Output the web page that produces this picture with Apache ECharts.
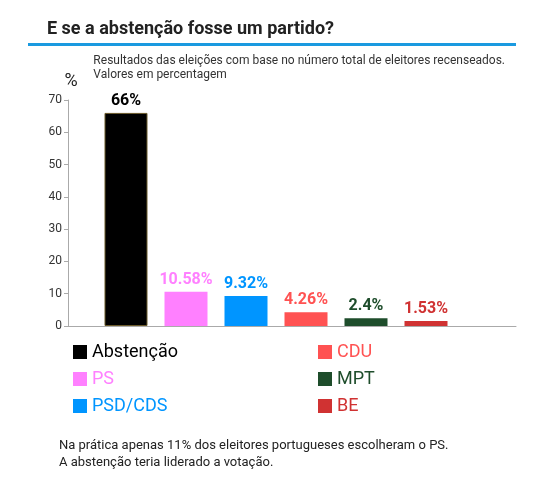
<!DOCTYPE html><html><head><meta charset="utf-8"><script src="https://cdn.jsdelivr.net/npm/echarts@6/dist/echarts.min.js"></script></head><body style="margin:0"><div id="c" style="width:560px;height:484px"></div><script>
const categories=["Abstenção","PS","PSD/CDS","CDU","MPT","BE",""];
const values=[66,10.58,9.32,4.26,2.4,1.53];
const colors=["#000000","#ff80ff","#0095ff","#ff5252","#1e4d2b","#d03232"];
const yTicks=[0,10,20,30,40,50,60,70];
const F="Roboto";
const series=values.map((v,i)=>({name:categories[i],type:'bar',stack:'a',barWidth:43,
 data:categories.map((c,j)=>j===i?v:'-'),
 itemStyle:{color:colors[i],borderColor:i===0?'#6b5a2a':colors[i],borderWidth:i===0?1:0},
 label:{show:true,position:'top',formatter:v+'%',color:colors[i],fontFamily:F,fontWeight:'bold',fontSize:16,distance:4}}));
const leg=(names,left)=>({orient:'vertical',left:left,top:338,itemWidth:14,itemHeight:14,itemGap:9,icon:'rect',itemStyle:{borderWidth:0},
 data:names.map(n=>({name:n,textStyle:{color:colors[categories.indexOf(n)],fontSize:18,fontFamily:F}})),selectedMode:false});
const ch=echarts.init(document.getElementById('c'));
ch.setOption({animation:false,
 title:[{text:'E se a abstenção fosse um partido?',left:42,top:15,textStyle:{fontFamily:F,fontSize:18,fontWeight:'bold',color:'#222'}},
  {text:'Resultados das eleições com base no número total de eleitores recenseados.\nValores em percentagem',right:50,top:49,textStyle:{fontFamily:F,fontSize:12,fontWeight:'normal',color:'#333',lineHeight:14,align:'right'}},
  {text:'Na prática apenas 11% dos eleitores portugueses escolheram o PS.\nA abstenção teria liderado a votação.',left:54,top:432,textStyle:{fontFamily:F,fontSize:13,fontWeight:'normal',color:'#222',lineHeight:17}}],
 graphic:[{type:'rect',shape:{x:28,y:43,width:488,height:3},style:{fill:'#1a9ae0'}},
  {type:'line',shape:{x1:68,y1:326.5,x2:96,y2:326.5},style:{stroke:'#aaa',lineWidth:1}}],
 legend:[leg(["Abstenção","PS","PSD/CDS"],68),leg(["CDU","MPT","BE"],313)],
 grid:{left:96,right:44,top:100,bottom:158},
 xAxis:{type:'category',data:categories,axisLine:{lineStyle:{color:'#aaa'}},axisTick:{show:false},axisLabel:{show:false}},
 yAxis:{type:'value',min:0,max:70,interval:10,offset:28,name:'%',nameGap:8,nameTextStyle:{fontFamily:F,fontSize:18,color:'#222',align:'center',padding:[0,0,2,6]},
  axisLine:{show:true,lineStyle:{color:'#aaa'}},axisTick:{show:true,length:4,lineStyle:{color:'#aaa'}},splitLine:{show:false},
  axisLabel:{fontFamily:F,fontSize:12,color:'#333',margin:6,formatter:v=>yTicks.includes(v)?v:''}},
 series:series});
</script></body></html>
